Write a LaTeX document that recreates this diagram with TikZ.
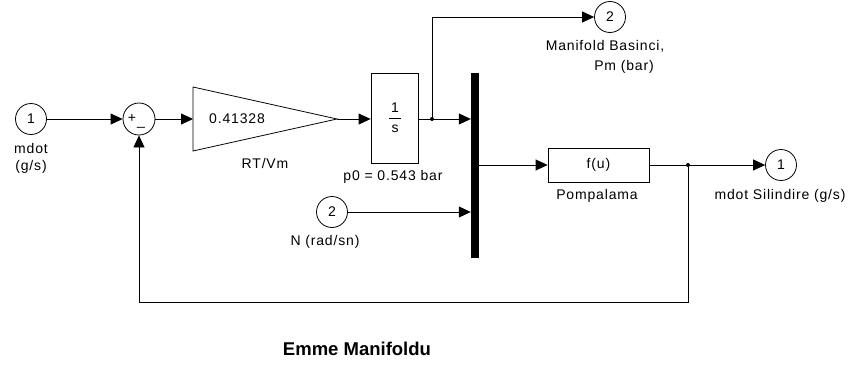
\documentclass[tikz,border=0pt]{standalone}
\usepackage{fontspec}
\setmainfont{Liberation Sans}
\newfontfamily\lbfont[LetterSpace=6]{Liberation Sans}
\usetikzlibrary{arrows.meta}
\begin{document}
\begin{tikzpicture}[x=1pt,y=-1pt,
  port/.style={draw, circle, minimum size=31pt, inner sep=0pt, line width=0.8pt, font=\lbfont\fontsize{14}{16}\selectfont},
  blk/.style={draw, rectangle, inner sep=0pt, line width=0.8pt},
  lbl/.style={inner sep=0pt, font=\lbfont\fontsize{14}{17}\selectfont, align=center},
  sig/.style={-{Triangle[length=12pt,width=11pt]}, line width=0.8pt},
  wire/.style={line width=0.8pt}]
\useasboundingbox (0,0) rectangle (851,372);
% blocks
\node[port] (in1) at (31,119) {1};
\node[lbl] (in1l) at (31,158) {mdot\\(g/s)};
\node[draw, circle, minimum size=32pt, inner sep=0pt, line width=0.8pt] (sum) at (139,119) {};
\node[lbl] (plus) at (132,118) {+};
\node[lbl, anchor=base] (minus) at (141,125) {\_};
\coordinate (gin) at (193,119);
\coordinate (gout) at (337,119);
\draw[wire] (193,87) -- (gout) -- (193,151) -- cycle;
\node[lbl] (gval) at (237,119) {0.41328};
\node[lbl] (gl) at (265,163) {RT/Vm};
\node[blk, minimum width=47pt, minimum height=90pt] (int) at (394.5,118) {};
\node[lbl] (one) at (395,108) {1};
\node[lbl] (ess) at (395,129) {s};
\draw[wire] (389,118.5) -- (401,118.5);
\node[lbl] (intl) at (393,177) {p0 = 0.543 bar};
\node[port] (out2) at (610,17) {2};
\node[lbl] (out2a) at (605,46) {Manifold Basinci,};
\node[lbl] (out2b) at (624,67) {Pm (bar)};
\node[fill=black, minimum width=8pt, minimum height=185pt, inner sep=0pt] (mux) at (475,165.5) {};
\node[port] (in2) at (332,212) {2};
\node[lbl] (in2l) at (325,242) {N (rad/sn)};
\node[blk, minimum width=101pt, minimum height=34pt, font=\lbfont\fontsize{14}{16}\selectfont] (fu) at (598.5,165) {f(u)};
\node[lbl] (ful) at (597,196) {Pompalama};
\node[port] (out1) at (781,165) {1};
\node[lbl] (out1l) at (780,196) {mdot Silindire (g/s)};
\node[inner sep=0pt, font=\bfseries\fontsize{18.5}{20}\selectfont] (title) at (357,349) {Emme Manifoldu};
% branch points
\coordinate (b1) at (432,119);
\coordinate (b2) at (688,165);
\coordinate (fb) at (688,302);
\fill (b1) circle (2pt);
\fill (b2) circle (2pt);
% connectors
\draw[sig] (in1) -- (sum);
\draw[sig] (sum) -- (gin);
\draw[sig] (gout) -- (int.west |- gout);
\draw[wire] (int.east |- b1) -- (b1);
\draw[sig] (b1) -- (b1 -| mux.west);
\draw[sig] (b1) |- (out2);
\draw[sig] (in2) -- (in2 -| mux.west);
\draw[sig] (mux.east |- fu) -- (fu);
\draw[wire] (fu) -- (b2);
\draw[sig] (b2) -- (out1);
\draw[sig] (b2) -- (fb) -| (sum.south);
\end{tikzpicture}
\end{document}
